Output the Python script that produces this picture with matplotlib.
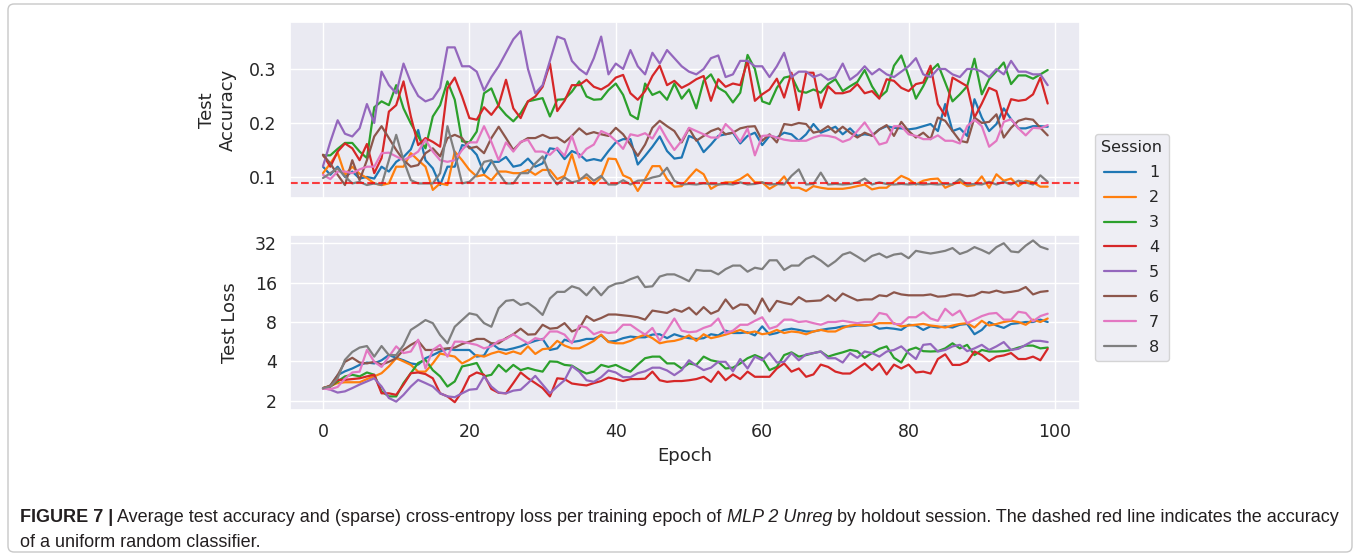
import matplotlib
matplotlib.use("Agg")
import matplotlib.pyplot as plt
import seaborn as sns
from matplotlib import font_manager
from matplotlib.patches import FancyBboxPatch
from matplotlib.transforms import IdentityTransform
from matplotlib.ticker import NullLocator

# ---------------- data ----------------
epochs = list(range(100))
session_labels = ["1", "2", "3", "4", "5", "6", "7", "8"]
random_acc = 0.089

acc_s1 = [0.119, 0.104, 0.119, 0.100, 0.110, 0.097, 0.100, 0.097, 0.119, 0.110,
          0.128, 0.137, 0.151, 0.187, 0.131, 0.116, 0.085, 0.119, 0.119, 0.159,
          0.156, 0.141, 0.107, 0.128, 0.128, 0.137, 0.119, 0.122, 0.134, 0.119,
          0.125, 0.153, 0.151, 0.133, 0.148, 0.142, 0.130, 0.133, 0.130, 0.148,
          0.164, 0.170, 0.170, 0.123, 0.139, 0.156, 0.175, 0.148, 0.134, 0.136,
          0.176, 0.170, 0.146, 0.160, 0.176, 0.179, 0.182, 0.162, 0.176, 0.182,
          0.159, 0.176, 0.173, 0.182, 0.179, 0.167, 0.179, 0.198, 0.182, 0.187,
          0.193, 0.179, 0.190, 0.176, 0.179, 0.177, 0.188, 0.194, 0.191, 0.190,
          0.188, 0.190, 0.194, 0.198, 0.185, 0.235, 0.185, 0.190, 0.176, 0.244,
          0.210, 0.185, 0.198, 0.227, 0.207, 0.190, 0.190, 0.194, 0.194, 0.193]
acc_s2 = [0.107, 0.125, 0.145, 0.104, 0.119, 0.106, 0.098, 0.088, 0.085, 0.088,
          0.119, 0.119, 0.144, 0.131, 0.119, 0.076, 0.088, 0.085, 0.147, 0.131,
          0.113, 0.101, 0.104, 0.094, 0.110, 0.110, 0.107, 0.107, 0.113, 0.104,
          0.113, 0.113, 0.096, 0.102, 0.142, 0.096, 0.099, 0.086, 0.099, 0.134,
          0.133, 0.103, 0.097, 0.074, 0.096, 0.120, 0.120, 0.096, 0.082, 0.083,
          0.099, 0.114, 0.105, 0.078, 0.086, 0.090, 0.090, 0.096, 0.105, 0.090,
          0.090, 0.078, 0.086, 0.101, 0.080, 0.080, 0.074, 0.083, 0.080, 0.078,
          0.078, 0.078, 0.080, 0.083, 0.086, 0.077, 0.080, 0.080, 0.091, 0.102,
          0.096, 0.086, 0.093, 0.096, 0.097, 0.080, 0.086, 0.091, 0.083, 0.085,
          0.101, 0.080, 0.105, 0.093, 0.097, 0.083, 0.093, 0.090, 0.082, 0.082]
acc_s3 = [0.140, 0.140, 0.152, 0.163, 0.163, 0.147, 0.135, 0.229, 0.240, 0.233,
          0.270, 0.227, 0.199, 0.175, 0.153, 0.212, 0.233, 0.277, 0.243, 0.166,
          0.164, 0.184, 0.255, 0.264, 0.231, 0.215, 0.203, 0.218, 0.240, 0.243,
          0.246, 0.212, 0.243, 0.244, 0.258, 0.277, 0.249, 0.243, 0.244, 0.261,
          0.273, 0.252, 0.215, 0.207, 0.273, 0.252, 0.258, 0.243, 0.273, 0.245,
          0.262, 0.227, 0.278, 0.290, 0.265, 0.257, 0.238, 0.256, 0.326, 0.300,
          0.240, 0.235, 0.265, 0.284, 0.287, 0.259, 0.256, 0.262, 0.256, 0.272,
          0.281, 0.259, 0.268, 0.276, 0.298, 0.268, 0.247, 0.259, 0.306, 0.325,
          0.287, 0.245, 0.268, 0.296, 0.309, 0.275, 0.240, 0.253, 0.268, 0.319,
          0.253, 0.281, 0.296, 0.312, 0.272, 0.288, 0.288, 0.282, 0.290, 0.298]
acc_s4 = [0.141, 0.119, 0.147, 0.162, 0.153, 0.131, 0.161, 0.107, 0.135, 0.221,
          0.233, 0.277, 0.212, 0.159, 0.172, 0.165, 0.156, 0.264, 0.284, 0.249,
          0.209, 0.206, 0.229, 0.215, 0.233, 0.280, 0.227, 0.209, 0.240, 0.249,
          0.267, 0.310, 0.222, 0.241, 0.270, 0.270, 0.280, 0.267, 0.262, 0.270,
          0.284, 0.289, 0.255, 0.243, 0.259, 0.287, 0.306, 0.270, 0.278, 0.265,
          0.272, 0.281, 0.287, 0.241, 0.281, 0.267, 0.273, 0.270, 0.315, 0.241,
          0.253, 0.262, 0.282, 0.247, 0.293, 0.224, 0.293, 0.293, 0.228, 0.268,
          0.255, 0.255, 0.259, 0.272, 0.255, 0.259, 0.245, 0.281, 0.278, 0.265,
          0.259, 0.272, 0.275, 0.306, 0.235, 0.213, 0.284, 0.276, 0.268, 0.210,
          0.236, 0.265, 0.259, 0.207, 0.244, 0.241, 0.243, 0.253, 0.284, 0.236]
acc_s5 = [0.120, 0.165, 0.205, 0.180, 0.175, 0.190, 0.235, 0.200, 0.295, 0.270,
          0.255, 0.310, 0.275, 0.250, 0.240, 0.245, 0.265, 0.340, 0.340, 0.305,
          0.305, 0.295, 0.260, 0.285, 0.305, 0.330, 0.355, 0.370, 0.300, 0.255,
          0.270, 0.315, 0.360, 0.355, 0.315, 0.300, 0.290, 0.320, 0.360, 0.290,
          0.310, 0.300, 0.335, 0.305, 0.290, 0.330, 0.310, 0.335, 0.320, 0.305,
          0.295, 0.290, 0.300, 0.320, 0.325, 0.285, 0.290, 0.315, 0.315, 0.305,
          0.305, 0.285, 0.305, 0.330, 0.285, 0.295, 0.295, 0.285, 0.290, 0.280,
          0.285, 0.310, 0.280, 0.290, 0.305, 0.290, 0.300, 0.290, 0.285, 0.295,
          0.305, 0.320, 0.290, 0.285, 0.300, 0.300, 0.290, 0.285, 0.300, 0.300,
          0.295, 0.285, 0.300, 0.290, 0.315, 0.295, 0.295, 0.290, 0.290, 0.270]
acc_s6 = [0.141, 0.125, 0.104, 0.085, 0.131, 0.094, 0.131, 0.175, 0.194, 0.172,
          0.150, 0.131, 0.119, 0.122, 0.144, 0.153, 0.138, 0.172, 0.178, 0.172,
          0.153, 0.156, 0.144, 0.172, 0.193, 0.172, 0.150, 0.164, 0.172, 0.172,
          0.178, 0.172, 0.173, 0.164, 0.176, 0.190, 0.179, 0.183, 0.179, 0.176,
          0.191, 0.179, 0.160, 0.139, 0.160, 0.191, 0.204, 0.194, 0.185, 0.164,
          0.190, 0.167, 0.176, 0.185, 0.190, 0.179, 0.182, 0.190, 0.193, 0.194,
          0.167, 0.179, 0.164, 0.198, 0.196, 0.200, 0.198, 0.182, 0.185, 0.194,
          0.182, 0.193, 0.182, 0.173, 0.182, 0.176, 0.188, 0.196, 0.176, 0.202,
          0.185, 0.173, 0.182, 0.170, 0.210, 0.204, 0.185, 0.167, 0.164, 0.210,
          0.200, 0.202, 0.216, 0.173, 0.191, 0.204, 0.208, 0.206, 0.191, 0.177]
acc_s7 = [0.104, 0.096, 0.110, 0.110, 0.107, 0.114, 0.119, 0.119, 0.144, 0.145,
          0.138, 0.131, 0.138, 0.147, 0.169, 0.147, 0.131, 0.128, 0.131, 0.150,
          0.164, 0.164, 0.194, 0.165, 0.131, 0.164, 0.147, 0.165, 0.169, 0.147,
          0.147, 0.141, 0.154, 0.139, 0.176, 0.136, 0.152, 0.160, 0.185, 0.179,
          0.167, 0.152, 0.179, 0.176, 0.181, 0.171, 0.194, 0.170, 0.150, 0.167,
          0.191, 0.185, 0.179, 0.173, 0.173, 0.198, 0.185, 0.165, 0.190, 0.140,
          0.176, 0.177, 0.173, 0.169, 0.167, 0.167, 0.167, 0.173, 0.177, 0.176,
          0.173, 0.165, 0.170, 0.185, 0.201, 0.181, 0.160, 0.164, 0.194, 0.194,
          0.179, 0.176, 0.170, 0.170, 0.177, 0.167, 0.167, 0.162, 0.194, 0.206,
          0.194, 0.156, 0.167, 0.202, 0.207, 0.190, 0.177, 0.191, 0.190, 0.196]
acc_s8 = [0.098, 0.107, 0.116, 0.101, 0.088, 0.091, 0.085, 0.088, 0.085, 0.131,
          0.178, 0.131, 0.094, 0.088, 0.088, 0.088, 0.107, 0.194, 0.144, 0.088,
          0.091, 0.104, 0.128, 0.131, 0.107, 0.088, 0.088, 0.107, 0.107, 0.125,
          0.138, 0.104, 0.086, 0.099, 0.090, 0.093, 0.105, 0.093, 0.102, 0.086,
          0.086, 0.094, 0.086, 0.093, 0.094, 0.099, 0.102, 0.117, 0.093, 0.086,
          0.087, 0.086, 0.088, 0.087, 0.086, 0.087, 0.086, 0.090, 0.086, 0.087,
          0.090, 0.086, 0.087, 0.086, 0.102, 0.114, 0.086, 0.087, 0.108, 0.086,
          0.087, 0.086, 0.087, 0.090, 0.097, 0.086, 0.090, 0.087, 0.086, 0.087,
          0.086, 0.087, 0.086, 0.087, 0.086, 0.087, 0.086, 0.096, 0.086, 0.087,
          0.086, 0.091, 0.086, 0.091, 0.086, 0.093, 0.090, 0.086, 0.103, 0.091]

loss_s1 = [2.48, 2.60, 3.14, 3.36, 3.53, 3.76, 3.92, 3.86, 4.08, 4.47,
           4.26, 4.08, 3.86, 3.78, 4.23, 4.47, 4.76, 4.99, 4.89, 4.89,
           4.89, 4.35, 4.44, 5.50, 4.99, 4.89, 5.03, 5.21, 5.50, 5.74,
           5.94, 4.89, 5.03, 5.86, 5.62, 5.74, 5.94, 5.94, 6.32, 5.66,
           5.74, 6.02, 6.19, 6.11, 6.11, 6.41, 6.45, 6.02, 6.45, 6.19,
           6.02, 5.94, 6.02, 6.45, 6.32, 6.87, 6.59, 6.59, 6.68, 6.32,
           7.41, 6.41, 6.59, 6.96, 7.11, 6.96, 6.77, 6.77, 6.96, 7.11,
           7.21, 7.41, 7.41, 7.52, 7.52, 7.62, 7.11, 7.21, 7.11, 6.96,
           7.62, 7.52, 6.96, 7.41, 7.26, 7.41, 7.26, 7.62, 7.73, 6.45,
           6.96, 8.00, 7.52, 7.21, 7.73, 7.84, 8.00, 8.00, 8.34, 8.00]
loss_s2 = [2.50, 2.60, 2.73, 2.77, 2.77, 2.77, 2.93, 3.07, 3.25, 3.66,
           4.23, 4.00, 3.76, 3.34, 3.34, 3.86, 4.59, 4.47, 4.35, 3.86,
           4.11, 4.47, 4.35, 4.59, 4.76, 4.56, 4.76, 4.56, 5.21, 4.56,
           4.96, 5.03, 5.74, 5.28, 5.03, 5.03, 5.35, 5.74, 6.41, 5.62,
           5.50, 5.50, 5.74, 6.11, 6.41, 6.02, 5.50, 5.66, 5.74, 5.94,
           6.32, 5.74, 6.45, 6.02, 6.19, 6.41, 6.68, 6.96, 6.59, 6.77,
           6.45, 6.59, 6.96, 6.59, 6.77, 6.68, 6.45, 6.77, 6.96, 6.77,
           6.77, 7.21, 7.52, 7.62, 7.52, 7.62, 7.84, 7.84, 7.84, 7.41,
           7.52, 7.62, 7.73, 7.52, 7.41, 7.26, 7.52, 7.73, 7.84, 7.26,
           8.17, 7.52, 7.73, 8.00, 8.17, 8.00, 7.62, 8.34, 8.00, 8.51]
loss_s3 = [2.50, 2.57, 2.81, 3.07, 3.16, 3.07, 3.29, 3.16, 2.36, 2.16,
           2.16, 2.73, 3.25, 3.89, 4.11, 3.43, 3.07, 2.57, 2.81, 3.66,
           3.76, 3.89, 3.07, 3.16, 3.76, 3.34, 3.76, 3.43, 3.56, 3.43,
           3.34, 4.00, 3.97, 3.76, 3.71, 3.43, 3.23, 3.34, 3.76, 3.63,
           3.76, 3.53, 3.34, 3.78, 4.23, 4.35, 4.35, 3.86, 3.86, 3.53,
           3.86, 3.76, 4.35, 4.08, 3.97, 3.53, 3.58, 3.86, 4.23, 4.47,
           4.23, 3.43, 3.63, 4.47, 4.69, 4.35, 4.47, 4.63, 4.76, 4.35,
           4.53, 4.69, 4.89, 4.79, 4.26, 4.63, 4.99, 5.21, 4.26, 3.92,
           4.89, 5.10, 4.79, 4.76, 4.79, 5.03, 5.50, 5.03, 5.35, 4.47,
           4.89, 4.76, 4.76, 4.79, 4.89, 5.10, 5.28, 5.28, 5.03, 5.10]
loss_s4 = [2.50, 2.57, 2.89, 2.89, 2.93, 2.97, 3.07, 3.16, 2.28, 2.28,
           2.22, 2.66, 3.25, 3.29, 3.20, 2.97, 2.28, 2.16, 1.95, 2.36,
           3.07, 3.29, 3.16, 2.46, 2.30, 2.28, 2.73, 3.29, 2.97, 2.73,
           2.50, 2.16, 2.97, 2.93, 2.71, 2.66, 2.62, 2.73, 2.83, 3.01,
           2.93, 2.83, 2.93, 2.93, 2.95, 3.34, 2.87, 2.79, 2.83, 2.83,
           2.87, 2.93, 3.05, 2.79, 3.34, 2.87, 3.18, 2.93, 3.34, 3.05,
           3.05, 3.05, 3.53, 3.86, 3.34, 3.53, 3.05, 3.18, 3.78, 3.63,
           3.34, 3.23, 3.23, 3.53, 3.86, 3.43, 3.86, 3.18, 3.78, 3.53,
           3.78, 3.29, 3.34, 3.23, 4.17, 4.53, 3.76, 3.76, 3.97, 4.76,
           4.47, 4.03, 4.35, 4.44, 4.63, 4.17, 4.17, 4.35, 4.08, 4.99]
loss_s5 = [2.50, 2.43, 2.31, 2.36, 2.50, 2.66, 2.81, 2.97, 2.57, 2.10,
           1.97, 2.22, 2.57, 2.89, 2.73, 2.57, 2.28, 2.16, 2.13, 2.28,
           2.43, 2.46, 3.07, 2.57, 2.31, 2.28, 2.39, 2.43, 2.73, 3.10,
           2.66, 2.28, 2.57, 2.87, 3.68, 3.34, 2.87, 2.79, 3.03, 3.41,
           3.29, 3.03, 3.03, 3.25, 3.36, 3.58, 3.58, 3.41, 3.14, 3.43,
           4.08, 3.71, 3.43, 3.58, 3.97, 3.97, 3.36, 4.17, 3.53, 4.35,
           4.08, 4.63, 3.92, 3.97, 4.63, 4.08, 4.53, 4.63, 4.76, 4.23,
           4.23, 3.92, 4.63, 4.26, 4.76, 4.63, 4.35, 4.76, 4.89, 5.21,
           4.63, 4.17, 5.35, 5.43, 4.76, 4.89, 5.21, 5.35, 4.79, 5.03,
           5.35, 4.89, 5.21, 5.62, 4.89, 4.99, 5.35, 5.74, 5.74, 5.62]
loss_s6 = [2.48, 2.62, 3.14, 3.97, 4.26, 3.92, 3.86, 3.97, 3.78, 3.97,
           4.23, 4.89, 5.35, 5.74, 4.89, 4.89, 4.96, 5.03, 5.10, 5.43,
           5.66, 5.94, 5.94, 5.50, 5.50, 6.02, 6.45, 7.11, 6.41, 6.45,
           7.62, 7.11, 7.21, 7.84, 6.77, 7.11, 8.88, 8.17, 8.58, 9.13,
           9.13, 9.00, 8.88, 8.70, 8.34, 9.78, 9.58, 9.38, 9.99, 9.58,
           10.3, 9.13, 10.4, 9.26, 9.78, 11.9, 10.1, 10.9, 10.8, 9.26,
           12.1, 9.65, 11.6, 11.2, 10.9, 12.4, 11.5, 11.6, 11.7, 12.8,
           11.6, 13.2, 12.4, 11.7, 11.9, 11.9, 12.8, 12.6, 13.5, 13.0,
           12.8, 12.8, 12.8, 13.0, 12.5, 12.6, 13.0, 13.0, 12.6, 12.8,
           13.6, 13.4, 13.9, 13.4, 13.6, 13.9, 14.8, 13.0, 13.6, 13.8]
loss_s7 = [2.48, 2.45, 2.55, 2.95, 3.29, 3.34, 4.89, 3.97, 3.63, 4.35,
           5.21, 4.63, 4.76, 5.86, 3.53, 4.89, 5.35, 4.35, 5.66, 5.66,
           5.50, 5.35, 5.03, 5.21, 5.74, 5.94, 6.45, 5.94, 5.50, 6.02,
           5.86, 6.77, 6.77, 6.41, 5.50, 7.52, 7.26, 6.45, 6.77, 6.59,
           6.68, 7.62, 7.62, 6.96, 6.41, 7.21, 5.74, 6.96, 8.51, 6.87,
           6.68, 6.77, 7.21, 7.52, 8.51, 6.59, 6.87, 7.62, 7.62, 8.17,
           8.70, 7.11, 7.41, 8.34, 8.34, 8.00, 8.11, 7.84, 7.62, 8.00,
           8.00, 8.17, 8.00, 7.84, 8.00, 8.00, 9.38, 9.13, 7.73, 7.73,
           8.70, 8.70, 9.51, 8.51, 8.17, 10.1, 9.00, 9.78, 7.84, 8.34,
           8.88, 9.26, 9.38, 8.34, 8.34, 9.58, 9.38, 8.11, 8.88, 9.26]
loss_s8 = [2.50, 2.57, 2.97, 4.11, 4.72, 5.10, 5.24, 4.35, 5.24, 4.47,
           4.47, 5.32, 6.96, 7.57, 8.28, 7.84, 6.36, 5.50, 7.36, 8.28,
           9.32, 9.06, 7.84, 7.36, 10.2, 11.6, 11.8, 10.8, 11.2, 10.2,
           9.06, 12.1, 13.6, 13.6, 15.0, 14.4, 12.8, 14.8, 12.8, 14.8,
           15.7, 16.0, 17.0, 17.8, 14.8, 15.0, 17.8, 18.5, 18.5, 17.5,
           16.4, 20.0, 19.7, 19.7, 18.5, 20.3, 21.6, 21.6, 19.4, 20.8,
           20.3, 23.7, 23.7, 20.0, 21.6, 21.6, 24.3, 25.6, 23.6, 21.3,
           23.3, 26.2, 27.3, 25.3, 23.3, 25.6, 26.7, 24.9, 26.2, 26.7,
           24.6, 28.0, 27.3, 26.7, 27.3, 28.0, 29.4, 26.5, 27.7, 29.9,
           28.4, 26.7, 29.9, 32.0, 27.7, 27.3, 30.7, 33.6, 30.1, 28.8]

acc_ticks = [0.1, 0.2, 0.3]
loss_ticks = [2, 4, 8, 16, 32]
epoch_ticks = [0, 20, 40, 60, 80, 100]

caption_line1 = [("FIGURE 7 |", "bold", "normal"),
                 (" Average test accuracy and (sparse) cross-entropy loss per training epoch of ", "normal", "normal"),
                 ("MLP 2 Unreg", "normal", "italic"),
                 (" by holdout session. The dashed red line indicates the accuracy", "normal", "normal")]
caption_line2 = [("of a uniform random classifier.", "normal", "normal")]

accs = [acc_s1, acc_s2, acc_s3, acc_s4, acc_s5, acc_s6, acc_s7, acc_s8]
losses = [loss_s1, loss_s2, loss_s3, loss_s4, loss_s5, loss_s6, loss_s7, loss_s8]

# ---------------- style ----------------
sns.set_theme(style="darkgrid")
plt.rcParams["font.family"] = ["DejaVu Sans"]

W, H = 1360, 556
fig = plt.figure(figsize=(W / 100, H / 100), dpi=100)

def fx(px):
    return px / W

def fy(py):
    return 1 - py / H

L, R = 290, 1080
ax1 = fig.add_axes([fx(L), fy(198), fx(R) - fx(L), 176 / H])
ax2 = fig.add_axes([fx(L), fy(410), fx(R) - fx(L), 175 / H])

colors = sns.color_palette("tab10", 8)
for i in range(8):
    ax1.plot(epochs, accs[i], color=colors[i], lw=1.6, label=session_labels[i])
    ax2.plot(epochs, losses[i], color=colors[i], lw=1.6)

ax1.axhline(random_acc, color="red", ls="--", lw=1.5, alpha=0.75)

xl = (-(323 - L) / 7.32, (R - 323) / 7.32)
for ax in (ax1, ax2):
    ax.set_xlim(*xl)
    ax.set_xticks(epoch_ticks)
    ax.tick_params(labelsize=12.5)

ax1.set_ylim(0.061, 0.387)
ax1.set_yticks(acc_ticks)
ax1.set_yticklabels(["0.1", "0.2", "0.3"])
ax1.tick_params(labelbottom=False)

ax2.set_yscale("log", base=2)
ax2.set_ylim(1.70, 37.0)
ax2.set_yticks(loss_ticks)
ax2.set_yticklabels([str(t) for t in loss_ticks])
ax2.yaxis.set_minor_locator(NullLocator())

ax1.set_ylabel("Test\nAccuracy", fontsize=13)
ax2.set_ylabel("Test Loss", fontsize=13)
ax1.yaxis.set_label_coords((237 - L) / (R - L), 0.5)
ax2.yaxis.set_label_coords((239 - L) / (R - L), 0.5)
ax2.set_xlabel("Epoch", fontsize=13)

handles, labels = ax1.get_legend_handles_labels()
leg = fig.legend(handles, labels, title="Session", loc="center left",
                 bbox_to_anchor=(fx(1095), fy(247.5)), fontsize=11.5,
                 title_fontsize=11.5, frameon=True, borderaxespad=0.0,
                 labelspacing=0.62)
leg.get_frame().set_edgecolor("#cccccc")

# ---------------- frame ----------------
frame = FancyBboxPatch((8, 4), W - 16, H - 8,
                       boxstyle="round,pad=0,rounding_size=6",
                       transform=IdentityTransform(), facecolor="none",
                       edgecolor="#c8c8c8", lw=1.0, zorder=-5)
fig.add_artist(frame)

# ---------------- caption ----------------
avail = {f.name for f in font_manager.fontManager.ttflist}
cap_family = "DejaVu Sans"
for cand in ["Liberation Sans Narrow", "DejaVu Sans Condensed", "Liberation Sans", "DejaVu Sans"]:
    if cand in avail:
        cap_family = cand
        break

renderer = fig.canvas.get_renderer()

def line_width(pieces, size):
    tot = 0
    for txt, wgt, sty in pieces:
        t = fig.text(0, 0, txt, fontsize=size, fontweight=wgt, fontstyle=sty,
                     family=cap_family)
        tot += t.get_window_extent(renderer).width
        t.remove()
    return tot

def draw_line(pieces, x0, ybase, size):
    x = x0
    for txt, wgt, sty in pieces:
        t = fig.text(fx(x), fy(ybase), txt, fontsize=size, fontweight=wgt,
                     fontstyle=sty, family=cap_family, va="baseline",
                     ha="left", color="#231f20")
        x += t.get_window_extent(renderer).width

base = 10.0
wd = line_width(caption_line1, base)
cap_size = base * (1339 - 20) / wd
draw_line(caption_line1, 20, 522, cap_size)
draw_line(caption_line2, 20, 547, cap_size)

fig.savefig("out.png", dpi=100)
